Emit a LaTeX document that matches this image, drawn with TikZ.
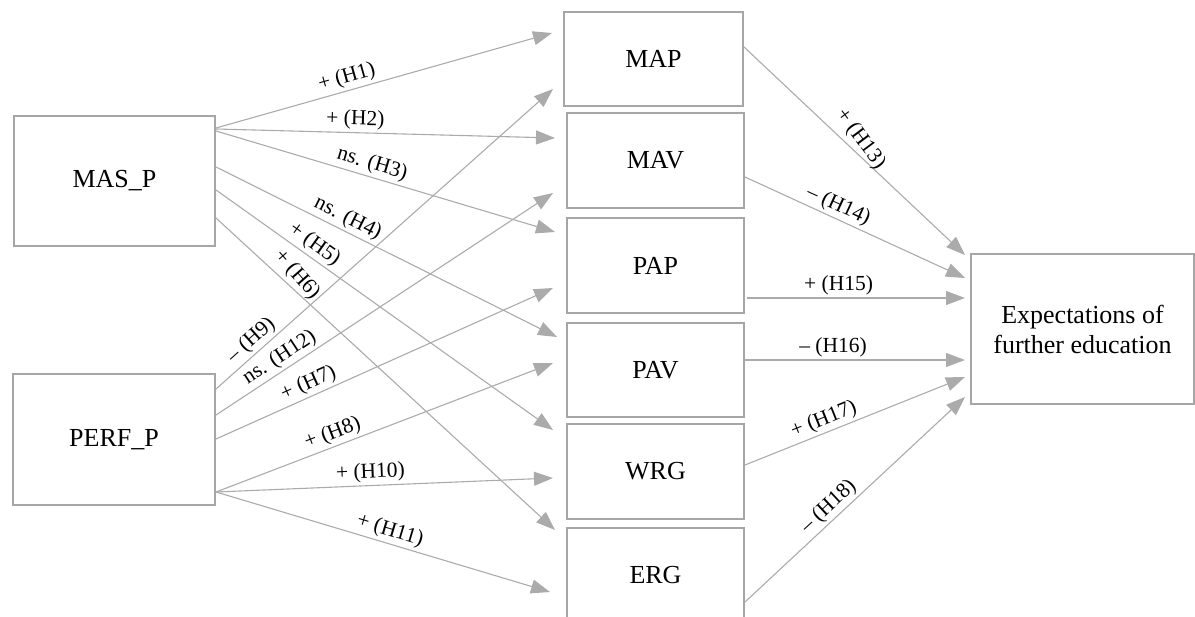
\documentclass[tikz,border=0pt]{standalone}
\usepackage{fontspec}
\setmainfont{Liberation Serif}
\usetikzlibrary{arrows.meta,calc}
\definecolor{boxgray}{HTML}{A6A6A6}
\definecolor{linegray}{HTML}{ABABAB}
\begin{document}
\begin{tikzpicture}[x=1pt,y=-1pt,
  box/.style={draw=boxgray, line width=2pt, fill=white, anchor=north west,
    inner sep=0pt, align=center, font=\fontsize{26}{30}\selectfont},
  arr/.style={draw=linegray, line width=1.1pt, -{Triangle[length=19pt,width=14pt,fill=linegray]}},
  lbl/.style={font=\fontsize{21.5}{24}\selectfont, sloped, above, inner sep=2.5pt, text=black}]
\useasboundingbox (0,0) rectangle (1195,617);
\clip (0,0) rectangle (1195,617);
% boxes
\node[box, minimum width=201pt, minimum height=130pt] (masp) at (13,115) {MAS\_P};
\node[box, minimum width=202pt, minimum height=131pt] (perfp) at (12,373) {PERF\_P};
\node[box, minimum width=179pt, minimum height=94pt] (map) at (563,11) {MAP};
\node[box, minimum width=177pt, minimum height=95pt] (mav) at (566,112) {MAV};
\node[box, minimum width=177pt, minimum height=95pt] (pap) at (566,217) {PAP};
\node[box, minimum width=177pt, minimum height=94pt] (pav) at (566,322) {PAV};
\node[box, minimum width=177pt, minimum height=95pt] (wrg) at (566,423) {WRG};
\node[box, minimum width=177pt, minimum height=95pt] (erg) at (566,527) {ERG};
\node[box, minimum width=223pt, minimum height=150pt] (exp) at (970,253) {Expectations of\\further education};
% MAS_P paths
\draw[arr] ($(masp.north east)+(0,13)$) -- node[lbl,pos=0.40]{+ (H1)} ($(map.north west)+(-11,22)$);
\draw[arr] ($(masp.north east)+(0,14)$) -- node[lbl,pos=0.41]{+ (H2)} ($(mav.north west)+(-11,26)$);
\draw[arr] ($(masp.north east)+(0,16)$) -- node[lbl,pos=0.45]{ns. (H3)} ($(pap.north west)+(-11,15)$);
\draw[arr] ($(masp.north east)+(0,52)$) -- node[lbl,pos=0.37]{ns. (H4)} ($(pav.north west)+(-9,15)$);
\draw[arr] ($(masp.north east)+(0,75)$) -- node[lbl,pos=0.27]{+ (H5)} ($(wrg.north west)+(-13,7)$);
\draw[arr] ($(masp.north east)+(0,103)$) -- node[lbl,pos=0.21,rotate=-6]{+ (H6)} ($(erg.north west)+(-11,3)$);
% PERF_P paths
\draw[arr] ($(perfp.north east)+(0,16)$) -- node[lbl,pos=0.13]{– (H9)} ($(map.north west)+(-10,78)$);
\draw[arr] ($(perfp.north east)+(0,42)$) -- node[lbl,pos=0.21]{ns. (H12)} ($(mav.north west)+(-13,81)$);
\draw[arr] ($(perfp.north east)+(0,66)$) -- node[lbl,pos=0.29]{+ (H7)} ($(pap.north west)+(-13,71)$);
\draw[arr] ($(perfp.north east)+(0,119)$) -- node[lbl,pos=0.36]{+ (H8)} ($(pav.north west)+(-13,41)$);
\draw[arr] ($(perfp.north east)+(0,119)$) -- node[lbl,pos=0.46]{+ (H10)} ($(wrg.north west)+(-13,55)$);
\draw[arr] ($(perfp.north east)+(0,119)$) -- node[lbl,pos=0.51]{+ (H11)} ($(erg.north west)+(-16,65)$);
% to outcome
\draw[arr] ($(map.north east)+(0,36)$) -- node[lbl,pos=0.48,rotate=-10]{+ (H13)} ($(exp.north west)+(-5,2)$);
\draw[arr] ($(mav.north east)+(0,65)$) -- node[lbl,pos=0.40]{– (H14)} ($(exp.north west)+(-5,25)$);
\draw[arr] ($(pap.north east)+(2,81)$) -- node[lbl,pos=0.42]{+ (H15)} ($(exp.north west)+(-5,45)$);
\draw[arr] ($(pav.north east)+(0,38)$) -- node[lbl,pos=0.40]{– (H16)} ($(exp.north west)+(-5,107)$);
\draw[arr] ($(wrg.north east)+(0,42)$) -- node[lbl,pos=0.38]{+ (H17)} ($(exp.north west)+(-5,124)$);
\draw[arr] ($(erg.north east)+(0,75)$) -- node[lbl,pos=0.42]{– (H18)} ($(exp.north west)+(-5,144)$);
\end{tikzpicture}
\end{document}
